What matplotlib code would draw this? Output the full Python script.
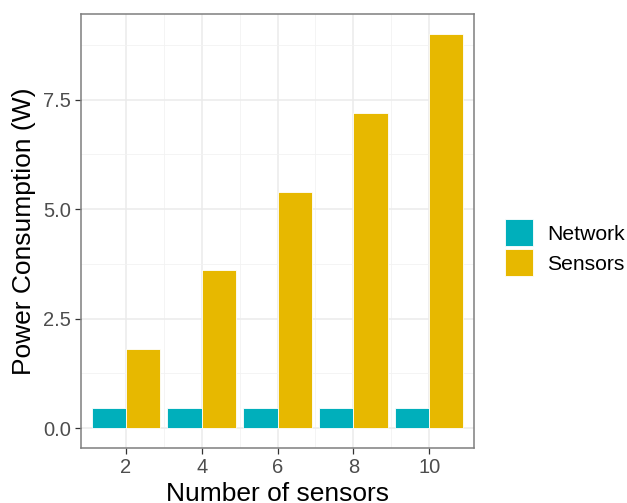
import matplotlib
matplotlib.use("Agg")
import matplotlib.pyplot as plt
from matplotlib.patches import Patch
import numpy as np

plt.rcParams['font.family'] = ['Liberation Sans', 'DejaVu Sans']

# data
n_sensors = [2, 4, 6, 8, 10]
network = [0.45, 0.45, 0.45, 0.45, 0.45]
sensors = [1.8, 3.6, 5.4, 7.2, 9.0]
labels = ['Network', 'Sensors']
colors = ['#00AFBB', '#E7B800']

W, H = 627, 503
fig = plt.figure(figsize=(W / 100, H / 100), dpi=100)
ax = fig.add_axes([81 / W, (H - 448) / H, (474 - 81) / W, (448 - 14) / H])

x = np.array(n_sensors, dtype=float)
ax.bar(x - 0.45, network, width=0.9, color=colors[0], edgecolor='white', linewidth=0.6, zorder=3)
ax.bar(x + 0.45, sensors, width=0.9, color=colors[1], edgecolor='white', linewidth=0.6, zorder=3)

ax.set_xlim(0.82, 11.18)
ax.set_ylim(-0.455, 9.455)
ax.set_xticks(n_sensors)
ax.set_xticks([3, 5, 7, 9], minor=True)
ax.set_yticks([0, 2.5, 5, 7.5])
ax.set_yticks([1.25, 3.75, 6.25, 8.75], minor=True)
ax.set_yticklabels(['0.0', '2.5', '5.0', '7.5'])

ax.grid(which='major', color='#EBEBEB', linewidth=1.1, zorder=0)
ax.grid(which='minor', color='#F2F2F2', linewidth=0.6, zorder=0)
ax.set_axisbelow(True)

for s in ax.spines.values():
    s.set_color('#7F7F7F')
    s.set_linewidth(1.1)
ax.tick_params(which='major', length=4, width=0.9, color='#333333',
               labelsize=14.5, labelcolor='#4D4D4D', pad=3)
ax.tick_params(which='minor', length=0)

ax.set_xlabel('Number of sensors', fontsize=19, color='black', labelpad=4)
ax.set_ylabel('Power Consumption (W)', fontsize=19, color='black', labelpad=5)

handles = [Patch(facecolor=c, edgecolor='white', linewidth=0.6) for c in colors]
fig.legend(handles, labels, loc='upper left', bbox_to_anchor=(505 / W, 1 - 219 / H),
           frameon=False, fontsize=15.2, handlelength=1.33, handleheight=1.62,
           handletextpad=0.65, labelspacing=0.12, borderpad=0, borderaxespad=0)

fig.savefig('out.png', dpi=100)
